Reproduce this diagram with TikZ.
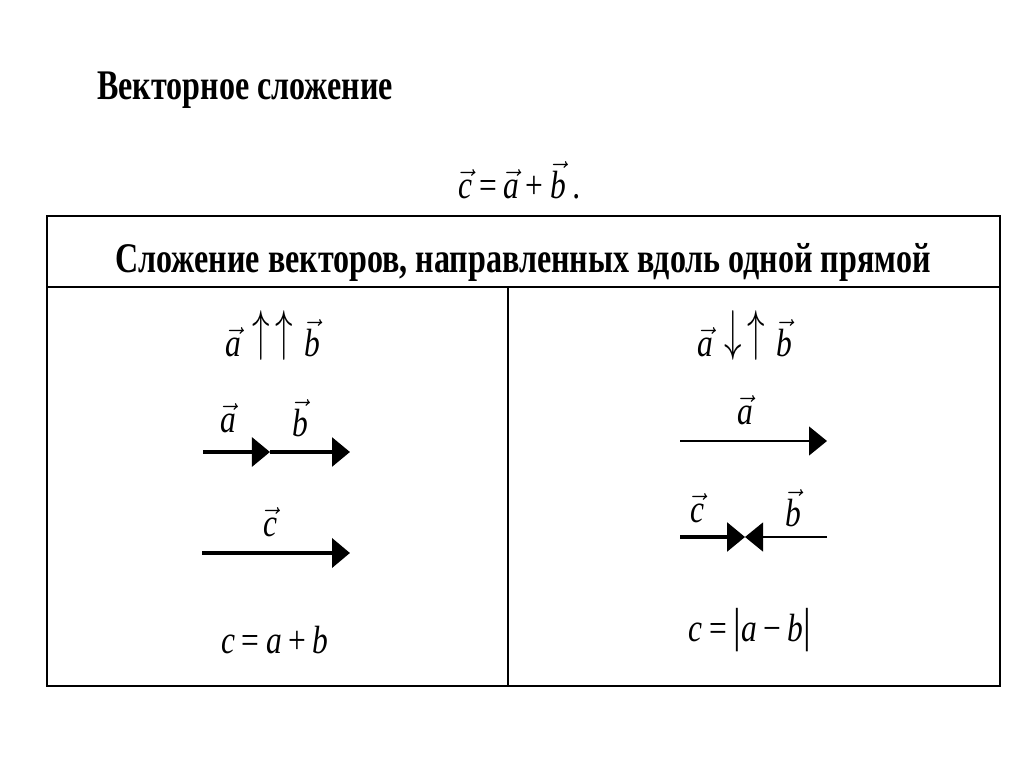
\documentclass[tikz,border=0pt]{standalone}
\usepackage{fontspec}
\usepackage{graphicx}
\setmainfont{Liberation Serif}
\newfontfamily\headfont[FakeStretch=0.76]{Liberation Serif}
\newfontfamily\mathfont[FakeStretch=0.8]{Liberation Serif}
\usetikzlibrary{arrows.meta,positioning}
\newcommand{\vv}[1]{$\vec{\hbox{\mathfont\itshape #1}}$}
\newcommand{\bigarr}[1]{\raisebox{0.35ex}{\scalebox{1.0}[1.6]{$#1$}}}

\begin{document}
\begin{tikzpicture}[
  x=0.025cm, y=-0.025cm,
  heading/.style={font=\headfont\bfseries\fontsize{30}{32}\selectfont, inner sep=0pt},
  formula/.style={font=\mathfont\itshape\fontsize{28}{30}\selectfont, inner sep=0pt},
  frame/.style={line width=1.6pt},
  vecarrow/.style={-{Triangle[length=0.45cm, width=0.72cm]}, line width=2.4pt},
  thinarrow/.style={-{Triangle[length=0.45cm, width=0.72cm]}, line width=1.4pt}
]
  \useasboundingbox (0,0) rectangle (1024,767);

  \node[heading, anchor=west] (title) at (97,90) {Векторное сложение};
  \node[formula] (sum) at (520,180) {\vv{c}\,{\upshape =}\,\vv{a}\,{\upshape +}\,\vv{b}\ .};

  % table
  \draw[frame] (47,216) rectangle (1000,686);
  \draw[frame] (47,287) -- (1000,287);
  \draw[line width=0.8pt] (508,287) -- (508,686);
  \node[heading] (head) at (523,262) {Сложение векторов, направленных вдоль одной прямой};

  % left cell
  \node[formula] (codir) at (273,336) {\vv{a}\;\bigarr{\uparrow\mkern3mu\uparrow}\;\vv{b}};
  \coordinate (a1) at (203,452);
  \coordinate (a2) at (270,452);
  \coordinate (b2) at (350,452);
  \draw[vecarrow] (a1) -- (a2);
  \draw[vecarrow] (a2) -- (b2);
  \node[formula] (la) at (228,418) {\vv{a}};
  \node[formula] (lb) at (300,418) {\vv{b}};
  \coordinate (c1) at (202,553);
  \coordinate (c2) at (350,553);
  \draw[vecarrow, line width=3.4pt] (c1) -- (c2);
  \node[formula] (lc) at (270,522) {\vv{c}};
  \node[formula] (eqleft) at (275,640) {c\,{\upshape =}\,a\,{\upshape +}\,b};

  % right cell
  \node[formula] (antidir) at (745,336) {\vv{a}\;\bigarr{\downarrow\mkern3mu\uparrow}\;\vv{b}};
  \coordinate (ra1) at (680,441);
  \coordinate (ra2) at (827,441);
  \draw[thinarrow] (ra1) -- (ra2);
  \node[formula] (rla) at (745,410) {\vv{a}};
  \coordinate (rc1) at (680,537);
  \coordinate (mid) at (745,537);
  \coordinate (rb1) at (827,537);
  \draw[vecarrow] (rc1) -- (mid);
  \draw[thinarrow] (rb1) -- (mid);
  \node[formula] (rlc) at (697,508) {\vv{c}};
  \node[formula] (rlb) at (793,508) {\vv{b}};
  \node[formula] (eqright) at (750,630) {c\,{\upshape =}\,{\upshape\fontsize{34}{34}\selectfont|}a\,{\upshape −}\,b{\upshape\fontsize{34}{34}\selectfont|}};
\end{tikzpicture}
\end{document}
